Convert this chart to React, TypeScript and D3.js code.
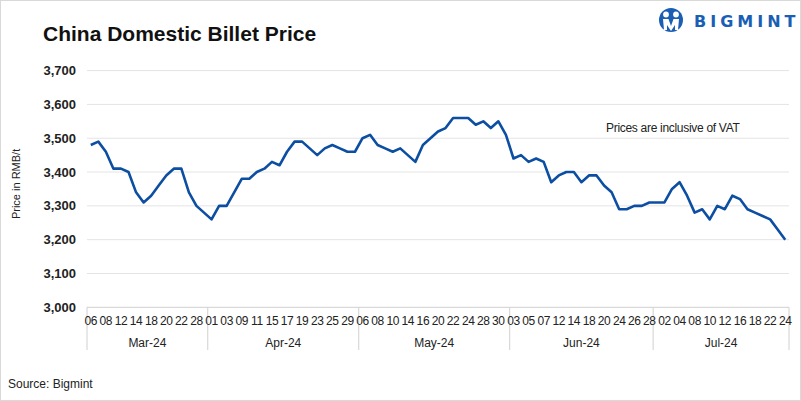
import React from "react";
import * as d3 from "d3";

const months = ["Mar-24", "Apr-24", "May-24", "Jun-24", "Jul-24"];
const monthDays: string[][] = [
  ["06","07","08","11","12","13","14","15","18","19","20","21","22","27","28","29"],
  ["01","02","03","08","09","10","11","12","15","16","17","18","19","22","23","24","25","26","29","30"],
  ["06","07","08","09","10","13","14","15","16","17","20","21","22","23","24","27","28","29","30","31"],
  ["03","04","05","06","07","11","12","13","14","17","18","19","20","21","24","25","26","27","28"],
  ["01","02","03","04","05","08","09","10","11","12","15","16","17","18","19","22","23","24"],
];
const prices = [
  3480,3490,3460,3410,3410,3400,3340,3310,3330,3360,3390,3410,3410,3340,3300,3280,
  3260,3300,3300,3340,3380,3380,3400,3410,3430,3420,3460,3490,3490,3470,3450,3470,3480,3470,3460,3460,
  3500,3510,3480,3470,3460,3470,3450,3430,3480,3500,3520,3530,3560,3560,3560,3540,3550,3530,3550,3510,
  3440,3450,3430,3440,3430,3370,3390,3400,3400,3370,3390,3390,3360,3340,3290,3290,3300,3300,3310,
  3310,3310,3350,3370,3330,3280,3290,3260,3300,3290,3330,3320,3290,3280,3270,3260,3230,3200,
];
const yTicks = [3000, 3100, 3200, 3300, 3400, 3500, 3600, 3700];

const W = 801, H = 401;
const left = 87, right = 789, top = 70.6, bottom = 307.3;
const FONT = "'Liberation Sans', Arial, sans-serif";
const BLUE = "#0c4ea2";
const LOGO = "#1a5fb4";

export default function App() {
  const cats: { key: string; day: string; m: number }[] = [];
  monthDays.forEach((ds, m) => ds.forEach((d) => cats.push({ key: `${m}-${d}`, day: d, m })));
  const x = d3.scaleBand<string>().domain(cats.map((c) => c.key)).range([left, right]);
  const y = d3.scaleLinear().domain([3000, 3700]).range([bottom, top]);
  const line = d3
    .line<number>()
    .x((_, i) => (x(cats[i].key) as number) + x.bandwidth() / 2)
    .y((v) => y(v));

  const bounds: number[] = [left];
  let idx = 0;
  monthDays.forEach((ds) => {
    idx += ds.length;
    bounds.push(left + idx * x.bandwidth());
  });

  return (
    <svg width={W} height={H} style={{ position: "absolute", left: 0, top: 0, background: "#fff" }} fontFamily={FONT}>
      <rect x={0.5} y={0.5} width={W - 1} height={H - 1} fill="#fff" stroke="#d9d9d9" />
      <text x={43} y={41} fontSize={21} fontWeight="bold" fill="#111">China Domestic Billet Price</text>
      {/* logo */}
      <g>
        <circle cx={671} cy={20} r={12} fill={LOGO} />
        <circle cx={666} cy={14.5} r={2.9} fill="#fff" />
        <circle cx={676} cy={14.5} r={2.9} fill="#fff" />
        <path d="M663,19 L668.5,19 L671,26 L673.5,19 L679,19 L678,30 L675,30 L675,25 L671,31 L667,25 L667,30 L664,30 Z" fill="#fff" />
        <text x={694} y={27.3} fontSize={16} fontWeight="900" fill={LOGO} letterSpacing={4} fontFamily="'DejaVu Sans', sans-serif">BIGMINT</text>
      </g>
      {/* gridlines */}
      {yTicks.slice(1).map((t) => (
        <line key={t} x1={left} x2={right} y1={y(t)} y2={y(t)} stroke="#e4e4e4" strokeWidth={1} />
      ))}
      {yTicks.map((t) => (
        <text key={"l" + t} x={76} y={y(t) + 4.5} fontSize={13} fontWeight="bold" textAnchor="end" fill="#222">
          {d3.format(",")(t)}
        </text>
      ))}
      <text transform={`translate(20,${(top + bottom) / 2 - 5}) rotate(-90)`} fontSize={11} textAnchor="middle" fill="#222">
        Price in RMB/t
      </text>
      {/* x axis */}
      <line x1={left} x2={right} y1={bottom} y2={bottom} stroke="#d0d0d0" />
      {bounds.map((b, i) => (
        <line key={"b" + i} x1={b} x2={b} y1={bottom} y2={350} stroke="#d0d0d0" />
      ))}
      {cats.map((c, i) =>
        i % 2 === 0 ? (
          <text key={c.key} x={(x(c.key) as number) + x.bandwidth() / 2} y={325} fontSize={12} textAnchor="middle" fill="#222" letterSpacing={-0.4}>
            {c.day}
          </text>
        ) : null
      )}
      {months.map((m, i) => (
        <text key={m} x={(bounds[i] + bounds[i + 1]) / 2} y={347} fontSize={12} textAnchor="middle" fill="#222">
          {m}
        </text>
      ))}
      <path d={line(prices) || ""} fill="none" stroke={BLUE} strokeWidth={2.6} strokeLinejoin="round" />
      <text x={606} y={132} fontSize={12} fill="#222" letterSpacing={-0.3}>Prices are inclusive of VAT</text>
      <text x={8} y={388} fontSize={12} fill="#222">Source: Bigmint</text>
    </svg>
  );
}
